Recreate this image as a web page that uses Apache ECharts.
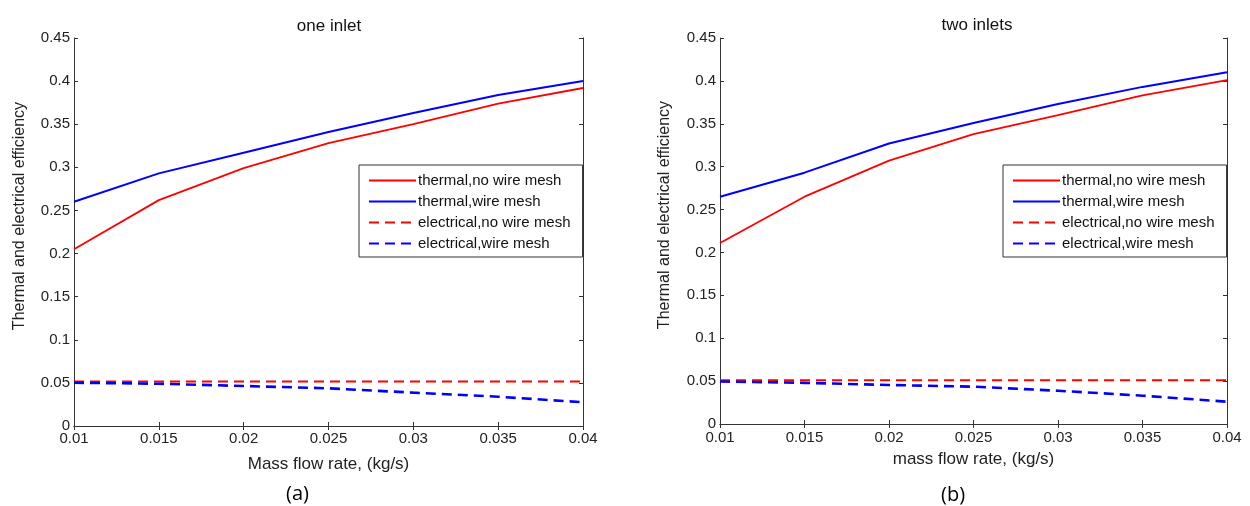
<!DOCTYPE html>
<html>
<head>
<meta charset="utf-8">
<script src="https://cdn.jsdelivr.net/npm/echarts@6/dist/echarts.min.js"></script>
<style>
html,body{margin:0;padding:0;background:#fff;}
#chart{width:1250px;height:506px;}
</style>
</head>
<body>
<div id="chart"></div>
<script>
// ----- data -----
const massFlow = [0.01, 0.015, 0.02, 0.025, 0.03, 0.035, 0.04];
const seriesNames = ['thermal,no wire mesh', 'thermal,wire mesh', 'electrical,no wire mesh', 'electrical,wire mesh'];

// (a) one inlet
const oneThermalNoMesh = [0.205, 0.262, 0.299, 0.328, 0.350, 0.374, 0.392];
const oneThermalMesh   = [0.260, 0.293, 0.317, 0.341, 0.363, 0.384, 0.400];
const oneElecNoMesh    = [0.0515, 0.0515, 0.0515, 0.0515, 0.0515, 0.0515, 0.0515];
const oneElecMesh      = [0.0502, 0.049, 0.0464, 0.0437, 0.0387, 0.034, 0.0275];

// (b) two inlets
const twoThermalNoMesh = [0.211, 0.265, 0.307, 0.338, 0.360, 0.383, 0.401];
const twoThermalMesh   = [0.265, 0.293, 0.327, 0.351, 0.373, 0.393, 0.410];
const twoElecNoMesh    = [0.051, 0.051, 0.051, 0.051, 0.051, 0.051, 0.051];
const twoElecMesh      = [0.0495, 0.048, 0.0455, 0.0435, 0.0388, 0.033, 0.026];

const xTicks = {min: 0.01, max: 0.04, interval: 0.005};
const yTicks = {min: 0, max: 0.45, interval: 0.05};

const panelTitles = ['one inlet', 'two inlets'];
const xNames = ['Mass flow rate, (kg/s)', 'mass flow rate, (kg/s)'];
const yName = 'Thermal and electrical efficiency';
const panelLabels = ['(a)', '(b)'];

// ----- chart -----
const RED = '#ff0000', BLUE = '#0000ff', AX = '#333333';
const FONT = 'Liberation Sans, Arial, sans-serif';

function pair(a, b) { return massFlow.map((x, i) => [x, b[i]]); }

const grids = [
  {left: 74, right: 667, top: 38, bottom: 80},
  {left: 720, right: 23, top: 38, bottom: 82}
];

const xAxes = [], yAxes = [];
[0, 1].forEach(g => {
  xAxes.push({
    type: 'value', gridIndex: g, min: xTicks.min, max: xTicks.max, interval: xTicks.interval,
    name: xNames[g], nameLocation: 'middle', nameGap: g === 0 ? 30 : 27,
    nameTextStyle: {fontFamily: FONT, fontSize: 17, color: '#222'},
    axisLine: {show: true, lineStyle: {color: AX, width: 1}},
    axisTick: {show: true, inside: true, length: 4, lineStyle: {color: AX}},
    axisLabel: {fontFamily: FONT, fontSize: 15, color: '#222', margin: g === 0 ? 5 : 6},
    splitLine: {show: false}
  });
  xAxes.push({
    type: 'value', gridIndex: g, position: 'top', min: xTicks.min, max: xTicks.max, interval: xTicks.interval,
    axisLine: {show: true, lineStyle: {color: AX, width: 1}},
    axisTick: {show: true, inside: true, length: 4, lineStyle: {color: AX}},
    axisLabel: {show: false}, splitLine: {show: false}
  });
  yAxes.push({
    type: 'value', gridIndex: g, min: yTicks.min, max: yTicks.max, interval: yTicks.interval,
    name: yName, nameLocation: 'middle', nameGap: g === 0 ? 46 : 47,
    nameTextStyle: {fontFamily: FONT, fontSize: 16, color: '#222', padding: [0, 0, 0, 32]},
    axisLine: {show: true, lineStyle: {color: AX, width: 1}},
    axisTick: {show: true, inside: true, length: 4, lineStyle: {color: AX}},
    axisLabel: {fontFamily: FONT, fontSize: 15, color: '#222', margin: 4},
    splitLine: {show: false}
  });
  yAxes.push({
    type: 'value', gridIndex: g, position: 'right', min: yTicks.min, max: yTicks.max, interval: yTicks.interval,
    axisLine: {show: true, lineStyle: {color: AX, width: 1}},
    axisTick: {show: true, inside: true, length: 4, lineStyle: {color: AX}},
    axisLabel: {show: false}, splitLine: {show: false}
  });
});

const panelData = [
  [oneThermalNoMesh, oneThermalMesh, oneElecNoMesh, oneElecMesh],
  [twoThermalNoMesh, twoThermalMesh, twoElecNoMesh, twoElecMesh]
];
const styles = [
  {color: RED, type: 'solid', width: 1.8},
  {color: BLUE, type: 'solid', width: 2},
  {color: RED, type: [10, 6], width: 2},
  {color: BLUE, type: [10, 6], width: 2.6}
];

const series = [];
[0, 1].forEach(g => {
  panelData[g].forEach((arr, k) => {
    series.push({
      name: seriesNames[k], type: 'line', xAxisIndex: g * 2, yAxisIndex: g * 2,
      data: pair(massFlow, arr), symbol: 'none', smooth: false, silent: true,
      lineStyle: styles[k], itemStyle: {color: styles[k].color}
    });
  });
});

const legends = [
  {left: 359, top: 165},
  {left: 1003, top: 165}
].map(p => ({
  data: seriesNames, orient: 'vertical', left: p.left, top: p.top,
  itemWidth: 47, itemHeight: 14, itemGap: 6,
  padding: [8, 12, 6, 9], selectedMode: false,
  backgroundColor: '#fff', borderColor: AX, borderWidth: 1,
  itemStyle: {opacity: 0, borderWidth: 0},
  textStyle: {fontFamily: FONT, fontSize: 15, lineHeight: 14, color: '#111', padding: [0, 0, 0, -3]}
}));

const option = {
  animation: false,
  backgroundColor: '#fff',
  title: [
    {text: panelTitles[0], left: 324, top: 13, textAlign: 'center', textStyle: {fontFamily: FONT, fontSize: 17, fontWeight: 'normal', color: '#111'}},
    {text: panelTitles[1], left: 972, top: 12, textAlign: 'center', textStyle: {fontFamily: FONT, fontSize: 17, fontWeight: 'normal', color: '#111'}}
  ],
  grid: grids,
  xAxis: xAxes,
  yAxis: yAxes,
  legend: legends,
  series: series,
  graphic: [
    {type: 'text', left: 286, top: 484, style: {text: panelLabels[0], font: '20px "Open Sans", sans-serif', fill: '#000'}},
    {type: 'text', left: 941, top: 485, style: {text: panelLabels[1], font: '20px "Open Sans", sans-serif', fill: '#000'}}
  ]
};

const chart = echarts.init(document.getElementById('chart'), null, {renderer: 'canvas'});
chart.setOption(option);
</script>
</body>
</html>
